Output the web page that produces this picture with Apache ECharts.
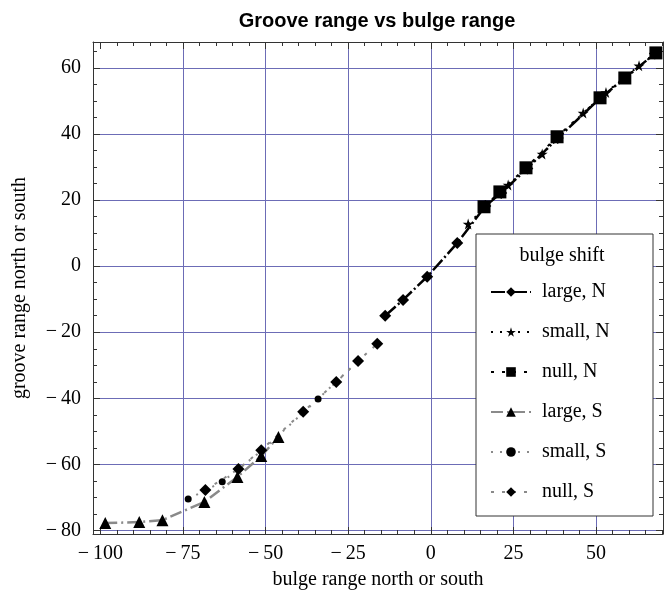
<!DOCTYPE html>
<html><head><meta charset="utf-8">
<script src="https://cdn.jsdelivr.net/npm/echarts@6/dist/echarts.min.js"></script>
<style>html,body{margin:0;padding:0;background:#fff}#c{width:664px;height:605px}</style>
</head><body><div id="c"></div>
<script>
// ---- data ----
const seriesNames = ['large, N', 'small, N', 'null, N', 'large, S', 'small, S', 'null, S'];
const xTickLabels = [-100, -75, -50, -25, 0, 25, 50];
const xGridValues = [-75, -50, -25, 0, 25, 50];
const yTickLabels = [-80, -60, -40, -20, 0, 20, 40, 60];
const xMinorTicks = [-100,-95,-90,-85,-80,-75,-70,-65,-60,-55,-50,-45,-40,-35,-30,-25,-20,-15,-10,-5,0,5,10,15,20,25,30,35,40,45,50,55,60,65,70];
const yMinorTicks = [-80,-75,-70,-65,-60,-55,-50,-45,-40,-35,-30,-25,-20,-15,-10,-5,0,5,10,15,20,25,30,35,40,45,50,55,60,65];

const largeN_x = [-13.8, -8.4, -1.1, 8.0, 16.5, 21.3, 29.2, 38.4, 51.4, 58.8, 67.8];
const largeN_y = [-15.0, -10.2, -3.2, 7.0, 18.2, 22.2, 29.6, 38.8, 51.0, 57.0, 64.4];
const smallN_x = [11.3, 23.4, 33.7, 46.1, 53.0, 63.0];
const smallN_y = [12.8, 24.6, 34.0, 46.4, 52.6, 60.7];
const nullN_x = [16.1, 20.9, 28.8, 38.2, 51.2, 58.7, 68.1];
const nullN_y = [18.0, 22.5, 29.8, 39.2, 51.0, 57.0, 64.6];
const largeS_x = [-98.5, -88.2, -81.2, -68.5, -58.5, -51.3, -46.1];
const largeS_y = [-77.8, -77.5, -76.9, -71.4, -63.8, -57.5, -51.7];
const smallS_x = [-73.4, -63.1, -51.3, -34.1, -22.0];
const smallS_y = [-70.5, -65.3, -56.0, -40.2, -28.7];
const nullS_x = [-68.2, -58.2, -51.3, -38.6, -28.6, -22.0, -16.2];
const nullS_y = [-67.8, -61.4, -55.7, -44.1, -35.1, -28.7, -23.5];

// ---- layout / style ----
const X_MIN = -102.2, X_MAX = 70.25, Y_MIN = -81.1, Y_MAX = 67.9;
const SERIF = '"Liberation Serif", "Times New Roman", serif';
const GRID_COLOR = '#6c6cb6';
const FRAME = '#333';
const STAR = 'path://M50,0 L61,35 L98,35 L68,57 L79,91 L50,70 L21,91 L32,57 L2,35 L39,35 Z';
const fmt = v => v < 0 ? '\u2212\u2009' + Math.abs(v) : String(v);
const zip = (xs, ys) => xs.map((x, i) => [x, ys[i]]);

function xAx(pos, kind) {
  // kind: 'major' (ticks+labels), 'minor' (small ticks), 'grid' (split lines only)
  const isMajor = kind === 'major', isGrid = kind === 'grid';
  const bottomMajor = pos === 'bottom' && isMajor;
  return {
    type: 'value', min: X_MIN, max: X_MAX, position: pos,
    axisLine: { show: isMajor, onZero: false, lineStyle: { color: FRAME, width: 1 } },
    axisTick: { show: true, inside: true, length: isGrid ? 0 : (isMajor ? 7 : 4),
      customValues: isGrid ? xGridValues : (isMajor ? xTickLabels : xMinorTicks), lineStyle: { color: isGrid ? GRID_COLOR : FRAME } },
    axisLabel: bottomMajor ? { show: true, customValues: xTickLabels, formatter: fmt, fontFamily: SERIF, fontSize: 20, color: '#000', margin: 10 } : { show: false },
    splitLine: isGrid ? { show: true, lineStyle: { color: GRID_COLOR, width: 1 } } : { show: false },
    name: bottomMajor ? 'bulge range north or south' : '',
    nameLocation: 'middle', nameGap: 36,
    nameTextStyle: { fontFamily: SERIF, fontSize: 20, color: '#000' }
  };
}
function yAx(pos, major) {
  const leftMajor = pos === 'left' && major;
  return {
    type: 'value', min: Y_MIN, max: Y_MAX, position: pos,
    axisLine: { show: major, onZero: false, lineStyle: { color: FRAME, width: 1 } },
    axisTick: { show: true, inside: true, length: major ? 7 : 4, customValues: major ? yTickLabels : yMinorTicks, lineStyle: { color: FRAME } },
    axisLabel: leftMajor ? { show: true, customValues: yTickLabels, formatter: fmt, fontFamily: SERIF, fontSize: 20, color: '#000', margin: 12 } : { show: false },
    splitLine: leftMajor ? { show: true, lineStyle: { color: GRID_COLOR, width: 1 } } : { show: false },
    name: leftMajor ? 'groove range north or south' : '',
    nameLocation: 'middle', nameGap: 63, nameRotate: 90,
    nameTextStyle: { fontFamily: SERIF, fontSize: 20, color: '#000' }
  };
}

function ser(name, xs, ys, symbol, size, color, dash, width) {
  return {
    name: name, type: 'line', xAxisIndex: 0, yAxisIndex: 0,
    data: zip(xs, ys), symbol: symbol, symbolSize: size,
    itemStyle: { color: '#000' },
    lineStyle: { color: color, width: width, type: dash },
    z: 2, animation: false
  };
}

const option = {
  animation: false,
  backgroundColor: '#fff',
  title: {
    text: 'Groove range vs bulge range', left: 372, top: 6, textAlign: 'center',
    textStyle: { fontFamily: '"Liberation Sans", Arial, sans-serif', fontWeight: 'bold', fontSize: 20, color: '#000' }
  },
  grid: { left: 93, right: 1, top: 42, bottom: 71, containLabel: false },
  xAxis: [xAx('bottom', 'major'), xAx('bottom', 'minor'), xAx('top', 'major'), xAx('top', 'minor'), xAx('bottom', 'grid')],
  yAxis: [yAx('left', true), yAx('left', false), yAx('right', true), yAx('right', false)],
  legend: {
    data: seriesNames, orient: 'vertical', left: 485, top: 276,
    itemWidth: 40, itemHeight: 12, itemGap: 18, z: 10,
    textStyle: { fontFamily: SERIF, fontSize: 20, color: '#000', lineHeight: 22, padding: [0, 0, 0, 6] }
  },
  graphic: [
    { type: 'rect', z: 5, shape: { x: 476, y: 234, width: 177, height: 282 }, style: { fill: '#fff', stroke: FRAME, lineWidth: 1 } },
    { type: 'text', z: 6, x: 562, y: 256, style: { text: 'bulge shift', font: '20px "Liberation Serif", serif', fill: '#000', textAlign: 'center', textVerticalAlign: 'middle' } }
  ],
  series: [
    ser('large, S', largeS_x, largeS_y, 'triangle', 12, '#8a8a8a', [12, 4, 2, 4], 2.5),
    ser('small, S', smallS_x, smallS_y, 'circle', 7, '#8a8a8a', [2, 7], 2),
    ser('null, S', nullS_x, nullS_y, 'diamond', 12, '#8a8a8a', [3, 8], 2),
    ser('large, N', largeN_x, largeN_y, 'diamond', 12, '#000', [14, 3, 2, 3], 2.5),
    ser('small, N', smallN_x, smallN_y, STAR, 11, '#000', [2, 7], 2),
    ser('null, N', nullN_x, nullN_y, 'rect', 13, '#000', [3, 8], 2)
  ]
};
const chart = echarts.init(document.getElementById('c'), null, { renderer: 'canvas' });
chart.setOption(option);
</script>
</body></html>
